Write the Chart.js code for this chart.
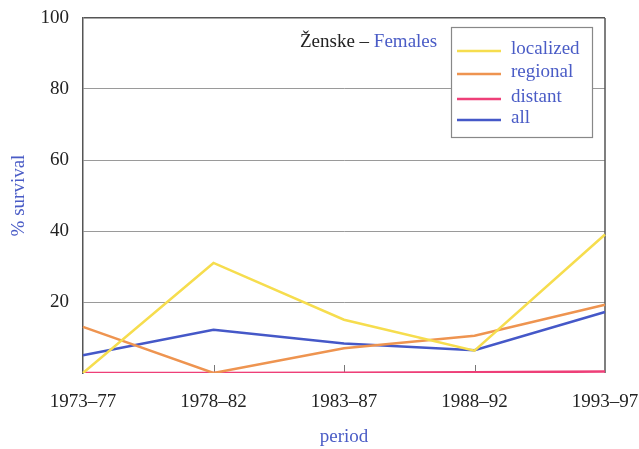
<!DOCTYPE html>
<html>
<head>
<meta charset="utf-8">
<script src="https://cdn.jsdelivr.net/npm/chart.js@4"></script>
<style>
  html, body { margin: 0; padding: 0; background: #fff; }
  #wrap { width: 639px; height: 449px; position: relative; }
</style>
</head>
<body>
<div id="wrap"><canvas id="survChart"></canvas></div>
<script>
// periods on the x axis
const periods = ['1973–77', '1978–82', '1983–87', '1988–92', '1993–97'];
// % survival per stage
const localized = [0, 31, 15, 6.3, 39];
const regional = [13, 0, 7, 10.5, 19.2];
const distant = [0, 0, 0.1, 0.2, 0.4];
const allStages = [5, 12.2, 8.3, 6.4, 17.2];
const yTicks = [20, 40, 60, 80, 100];

const serif = "'Liberation Serif', 'DejaVu Serif', serif";
const blueText = '#4a5cc6';

// title, boxed legend, right frame and the small inner ticks
const decorations = {
  id: 'decorations',
  beforeDatasetsDraw(chart) {
    const { ctx, chartArea: a, scales: { x } } = chart;
    ctx.save();
    ctx.strokeStyle = '#777';
    ctx.lineWidth = 1;
    for (let i = 1; i < periods.length - 1; i++) {
      const px = Math.round(x.getPixelForValue(i)) + 0.5;
      ctx.beginPath();
      ctx.moveTo(px, a.bottom);
      ctx.lineTo(px, a.bottom - 8);
      ctx.stroke();
    }
    // right border
    ctx.strokeStyle = '#555';
    ctx.lineWidth = 1.5;
    ctx.beginPath();
    ctx.moveTo(a.right, a.top);
    ctx.lineTo(a.right, a.bottom);
    ctx.stroke();
    ctx.restore();
  },
  afterDatasetsDraw(chart) {
    const { ctx } = chart;
    ctx.save();
    ctx.font = '19px ' + serif;
    ctx.textBaseline = 'middle';
    ctx.textAlign = 'left';
    const part1 = 'Ženske – ';
    ctx.fillStyle = '#222';
    ctx.fillText(part1, 300, 42);
    ctx.fillStyle = blueText;
    ctx.fillText('Females', 300 + ctx.measureText(part1).width, 42);

    // legend box
    ctx.fillStyle = '#fff';
    ctx.fillRect(451, 27, 141, 110);
    ctx.strokeStyle = '#888';
    ctx.lineWidth = 1.2;
    ctx.strokeRect(451.5, 27.5, 141, 110);
    const rows = [49, 72, 97, 118];
    chart.data.datasets.forEach((ds, i) => {
      ctx.strokeStyle = ds.borderColor;
      ctx.lineWidth = 2.5;
      ctx.beginPath();
      ctx.moveTo(457, rows[i] + 2);
      ctx.lineTo(501, rows[i] + 2);
      ctx.stroke();
      ctx.fillStyle = blueText;
      ctx.fillText(ds.label, 511, rows[i]);
    });
    ctx.restore();
  }
};

const ctx = document.getElementById('survChart').getContext('2d');
const survChart = new Chart(ctx, {
  type: 'line',
  data: {
    labels: periods,
    datasets: [
      { label: 'localized', data: localized, borderColor: '#f6dd4e' },
      { label: 'regional', data: regional, borderColor: '#ee9450' },
      { label: 'distant', data: distant, borderColor: '#ee3f78' },
      { label: 'all', data: allStages, borderColor: '#4558c8' }
    ]
  },
  options: {
    responsive: true,
    maintainAspectRatio: false,
    animation: false,
    layout: { padding: { top: 18, right: 34, left: 0, bottom: 0 } },
    elements: {
      line: { borderWidth: 2.5, tension: 0, fill: false },
      point: { radius: 0 }
    },
    plugins: {
      legend: { display: false },
      tooltip: { enabled: false }
    },
    scales: {
      x: {
        offset: false,
        grid: { display: false },
        border: { display: false },
        ticks: { color: '#222', font: { family: serif, size: 19 }, padding: 10, maxRotation: 0 },
        title: { display: true, text: 'period', color: blueText, font: { family: serif, size: 19 }, padding: { top: 0, bottom: 1 } },
        afterFit(scale) {
          scale.height = 76;
          scale.paddingLeft = 0;
          scale.paddingRight = 0;
        }
      },
      y: {
        min: 0,
        max: 100,
        afterBuildTicks(scale) { scale.ticks = [0].concat(yTicks).map(v => ({ value: v })); },
        grid: {
          drawTicks: false,
          color: c => c.tick.value === 0 ? 'rgba(0,0,0,0)' : (c.tick.value === 100 ? '#555' : '#9a9a9a'),
          lineWidth: c => c.tick.value === 100 ? 1.5 : 1
        },
        border: { display: true, color: '#555', width: 1.5 },
        ticks: {
          color: '#222',
          font: { family: serif, size: 19 },
          padding: 14,
          callback: v => v === 0 ? '' : v
        },
        title: { display: true, text: '% survival', color: blueText, font: { family: serif, size: 19 }, padding: { top: 8, bottom: 0 } },
        afterFit(scale) {
          scale.width = 83;
          scale.paddingTop = 0;
          scale.paddingBottom = 0;
        }
      }
    }
  },
  plugins: [decorations]
});
</script>
</body>
</html>
